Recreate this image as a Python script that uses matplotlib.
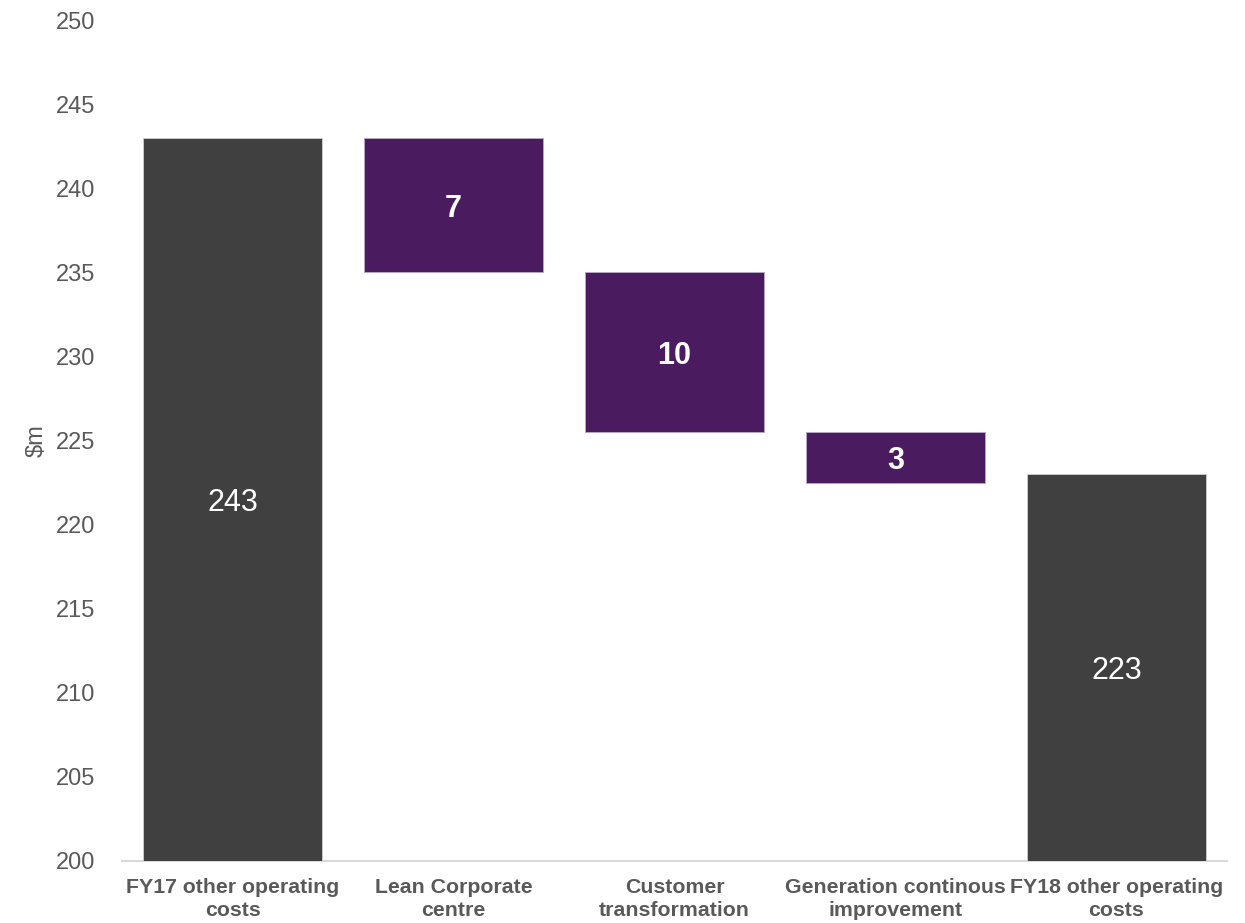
import matplotlib.pyplot as plt

plt.rcParams['font.family'] = ['Liberation Sans', 'DejaVu Sans']

categories = ['FY17 other operating\ncosts', 'Lean Corporate\ncentre', 'Customer\ntransformation',
              'Generation continous\nimprovement', 'FY18 other operating\ncosts']
start_value = 243.0
decreases = [8.0, 9.5, 3.0]
decrease_labels = ['7', '10', '3']
end_value = 223.0

grey = '#404040'
purple = '#4a1c5f'
text_grey = '#595959'

fig = plt.figure(figsize=(12.45, 9.23), dpi=100)
ax = fig.add_axes([0.098, 0.0672, 0.8875, 0.9111])

width = 0.81
base = 200

# totals
ax.bar(0, start_value - base, bottom=base, width=width, color=grey, edgecolor='#d0d0d0', linewidth=0.6, zorder=3)
ax.text(0, (start_value + base) / 2, f'{start_value:.0f}', ha='center', va='center_baseline',
        color='white', fontsize=22, zorder=4)
ax.bar(4, end_value - base, bottom=base, width=width, color=grey, edgecolor='#d0d0d0', linewidth=0.6, zorder=3)
ax.text(4, (end_value + base) / 2, f'{end_value:.0f}', ha='center', va='center_baseline',
        color='white', fontsize=22, zorder=4)

# steps
level = start_value
for i, (d, lab) in enumerate(zip(decreases, decrease_labels), start=1):
    bottom = level - d
    ax.bar(i, d, bottom=bottom, width=width, color=purple, edgecolor='#b9a8c6', linewidth=0.6, zorder=3)
    ax.text(i, bottom + d / 2, lab, ha='center', va='center_baseline', color='white',
            fontsize=22, fontweight='bold', zorder=4)
    level = bottom

ax.set_xlim(-0.5, 4.5)
ax.set_ylim(200, 250)
ax.set_yticks(range(200, 251, 5))
ax.set_xticks(range(len(categories)))
ax.set_xticklabels(categories, fontsize=15.3, fontweight='bold', color=text_grey, linespacing=1.3)
ax.tick_params(axis='y', labelsize=17, labelcolor=text_grey, length=0, pad=19)
ax.tick_params(axis='x', length=0, pad=12)
ax.set_ylabel('$m', fontsize=17, color=text_grey, labelpad=6)

for s in ['top', 'right', 'left']:
    ax.spines[s].set_visible(False)
ax.spines['bottom'].set_color('#d9d9d9')
ax.spines['bottom'].set_linewidth(1.5)
ax.spines['bottom'].set_zorder(2)

fig.savefig('out.png', dpi=100)
